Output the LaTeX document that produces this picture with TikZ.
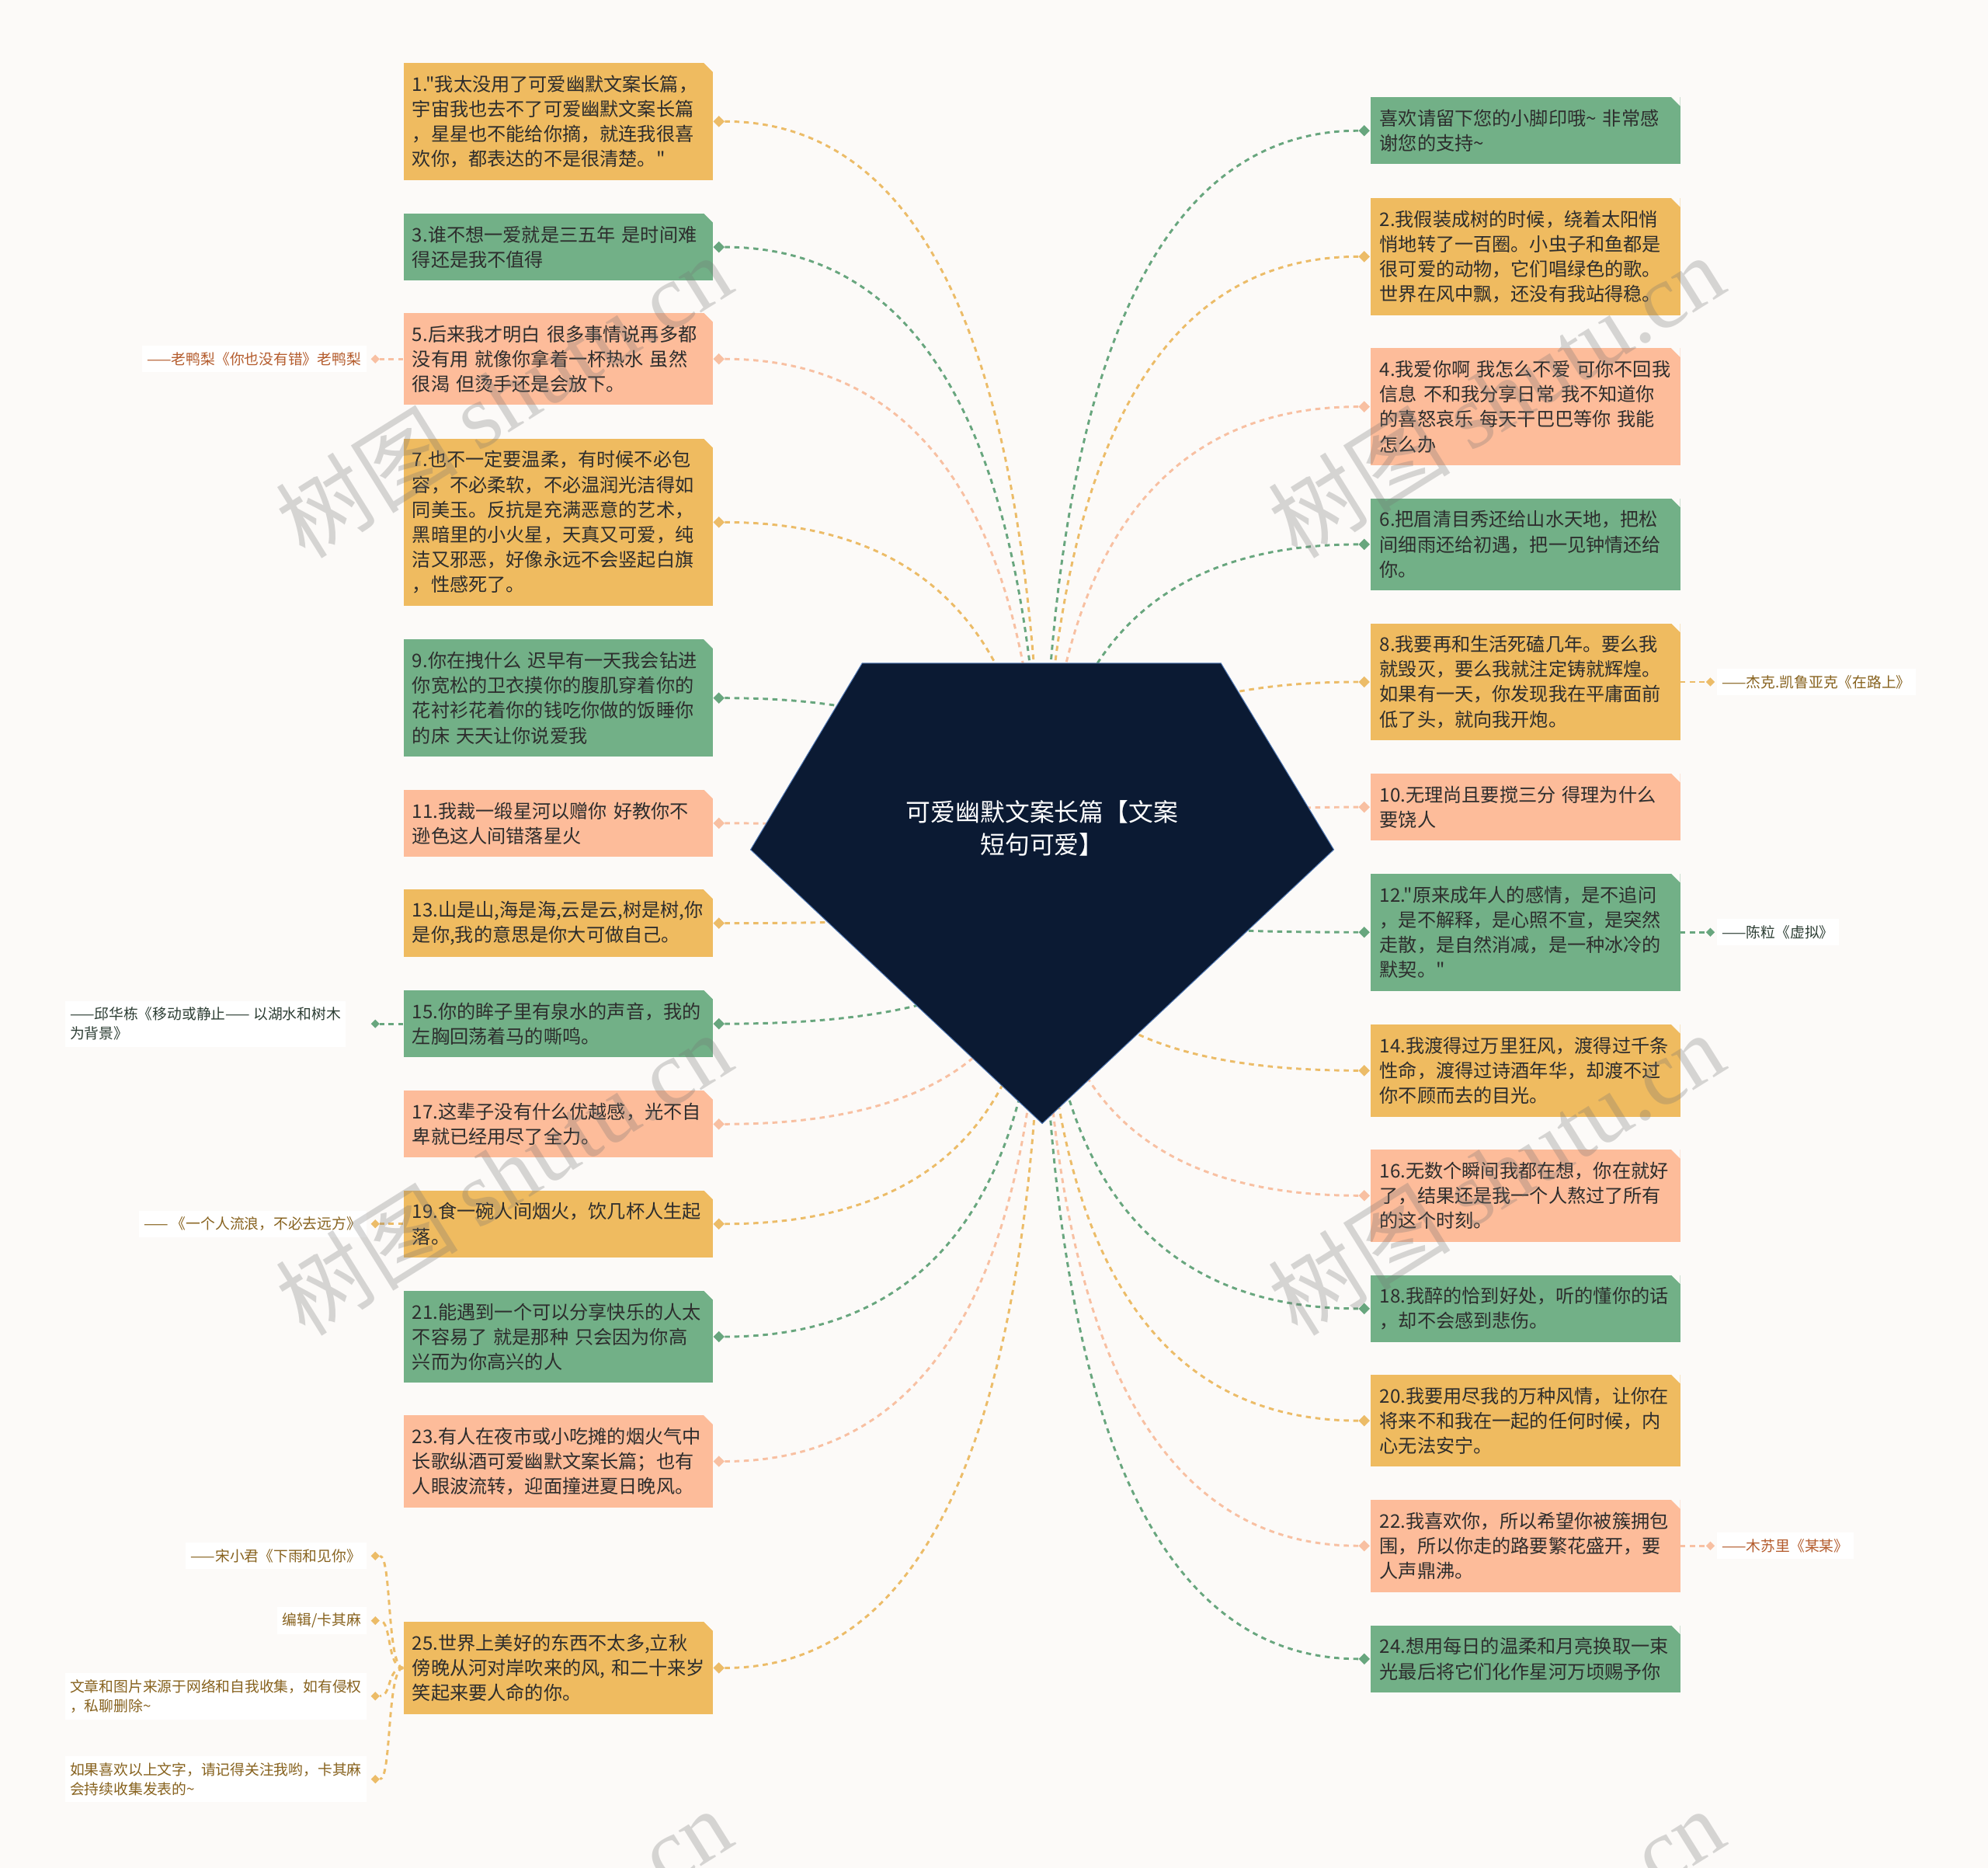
\documentclass[tikz,border=0pt]{standalone}
\usepackage{fontspec}
\setmainfont{Noto Sans CJK SC}[Ligatures=TeXOff]
\newfontfamily\wmlat{Liberation Serif}
\usetikzlibrary{shapes.geometric,calc}
\definecolor{bgc}{RGB}{252,250,248}
\definecolor{cOr}{RGB}{239,187,96}
\definecolor{cGr}{RGB}{114,176,135}
\definecolor{cSa}{RGB}{253,188,154}
\definecolor{lOr}{RGB}{236,188,104}
\definecolor{lGr}{RGB}{104,166,126}
\definecolor{lSa}{RGB}{248,192,162}
\definecolor{gemc}{RGB}{11,26,51}
\definecolor{gemb}{RGB}{80,120,180}
\definecolor{txt}{RGB}{45,45,45}
\definecolor{tOr}{RGB}{135,98,30}
\definecolor{tSa}{RGB}{180,92,45}
\definecolor{tGr}{RGB}{45,62,52}
\pgfdeclarelayer{bglayer}
\pgfdeclarelayer{conn}
\pgfdeclarelayer{wm}
\pgfsetlayers{bglayer,conn,main,wm}
\newcommand\mkbox[6]{\node[tbox, fill=#4, minimum height=#5pt] (#1) at (#2,#3) {#6};}
\newcommand\gemlink[2]{\draw[conn,draw=#2] (#1) .. controls ($(#1)!0.667!(#1 -| C)$) and ($(C)!0.667!(C |- #1)$) .. (C);}
\begin{document}
\begin{tikzpicture}[x=1pt,y=-1pt,
  tbox/.style={rectangle, anchor=west, text width=230pt, inner xsep=7pt, inner ysep=4pt, align=left, text=txt,
    font=\fontsize{14.8pt}{19.7pt}\selectfont,
    path picture={\fill[bgc] ([xshift=-7.5pt,yshift=0.5pt]path picture bounding box.north east) -- ([xshift=0.5pt,yshift=0.5pt]path picture bounding box.north east) -- ([xshift=0.5pt,yshift=-7.5pt]path picture bounding box.north east) -- cycle;}},
  dmd/.style={diamond, minimum size=9pt, inner sep=0pt},
  admd/.style={diamond, minimum size=7pt, inner sep=0pt},
  conn/.style={line width=1.8pt, dash pattern=on 4pt off 3.5pt},
  ann/.style={fill=white, inner xsep=4pt, inner ysep=5pt, align=left, font=\fontsize{11.5pt}{15.5pt}\selectfont},
  wmark/.style={rotate=32, text=black!55, text opacity=0.28, font=\fontsize{72pt}{80pt}\selectfont}
]
\begin{pgfonlayer}{bglayer}
\fill[bgc] (0,0) rectangle (1568,1473);
\end{pgfonlayer}
\useasboundingbox (0,0) rectangle (1568,1473);

% ---- hub and root ----
\coordinate (C) at (822,704);
\fill[gemc, draw=gemb, line width=0.6pt] (680,523) -- (963,523) -- (1052,670) -- (822,886) -- (592,670) -- cycle;
\node[font=\fontsize{19.5pt}{26pt}\selectfont, text=white, align=center] (root) at (822,653) {可爱幽默文案长篇【文案\\短句可爱】};

% ---- left boxes ----
\mkbox{b1}{318}{95.75}{cOr}{92.3}{1."我太没用了可爱幽默文案长篇，\\宇宙我也去不了可爱幽默文案长篇\\，星星也不能给你摘，就连我很喜\\欢你，都表达的不是很清楚。"}
\mkbox{b3}{318}{194.85}{cGr}{52.9}{3.谁不想一爱就是三五年~是时间难\\得还是我不值得}
\mkbox{b5}{318}{283.1}{cSa}{72.6}{5.后来我才明白~很多事情说再多都\\没有用~就像你拿着一杯热水~虽然\\很渴~但烫手还是会放下。}
\mkbox{b7}{318}{411.85}{cOr}{131.7}{7.也不一定要温柔，有时候不必包\\容，不必柔软，不必温润光洁得如\\同美玉。反抗是充满恶意的艺术，\\黑暗里的小火星，天真又可爱，纯\\洁又邪恶，好像永远不会竖起白旗\\，性感死了。}
\mkbox{b9}{318}{550.45}{cGr}{92.3}{9.你在拽什么~迟早有一天我会钻进\\你宽松的卫衣摸你的腹肌穿着你的\\花衬衫花着你的钱吃你做的饭睡你\\的床~天天让你说爱我}
\mkbox{b11}{318}{649.15}{cSa}{52.9}{11.我裁一缎星河以赠你~好教你不\\逊色这人间错落星火}
\mkbox{b13}{318}{728.05}{cOr}{52.9}{13.山是山,海是海,云是云,树是树,你\\是你,我的意思是你大可做自己。}
\mkbox{b15}{318}{807.35}{cGr}{52.9}{15.你的眸子里有泉水的声音，我的\\左胸回荡着马的嘶鸣。}
\mkbox{b17}{318}{886.45}{cSa}{52.9}{17.这辈子没有什么优越感，光不自\\卑就已经用尽了全力。}
\mkbox{b19}{318}{965.15}{cOr}{52.9}{19.食一碗人间烟火，饮几杯人生起\\落。}
\mkbox{b21}{318}{1054.1}{cGr}{72.6}{21.能遇到一个可以分享快乐的人太\\不容易了~就是那种~只会因为你高\\兴而为你高兴的人}
\mkbox{b23}{318}{1152.4}{cSa}{72.6}{23.有人在夜市或小吃摊的烟火气中\\长歌纵酒可爱幽默文案长篇；也有\\人眼波流转，迎面撞进夏日晚风。}
\mkbox{b25}{318}{1315.3}{cOr}{72.6}{25.世界上美好的东西不太多,立秋\\傍晚从河对岸吹来的风,~和二十来岁\\笑起来要人命的你。}

% ---- right boxes ----
\mkbox{r0}{1081}{103.05}{cGr}{52.9}{喜欢请留下您的小脚印哦\textasciitilde{}~非常感\\谢您的支持\textasciitilde}
\mkbox{r2}{1081}{202.35}{cOr}{92.3}{2.我假装成树的时候，绕着太阳悄\\悄地转了一百圈。小虫子和鱼都是\\很可爱的动物，它们唱绿色的歌。\\世界在风中飘，还没有我站得稳。}
\mkbox{r4}{1081}{320.75}{cSa}{92.3}{4.我爱你啊~我怎么不爱~可你不回我\\信息~不和我分享日常~我不知道你\\的喜怒哀乐~每天干巴巴等你~我能\\怎么办}
\mkbox{r6}{1081}{429.3}{cGr}{72.6}{6.把眉清目秀还给山水天地，把松\\间细雨还给初遇，把一见钟情还给\\你。}
\mkbox{r8}{1081}{537.75}{cOr}{92.3}{8.我要再和生活死磕几年。要么我\\就毁灭，要么我就注定铸就辉煌。\\如果有一天，你发现我在平庸面前\\低了头，就向我开炮。}
\mkbox{r10}{1081}{636.45}{cSa}{52.9}{10.无理尚且要搅三分~得理为什么\\要饶人}
\mkbox{r12}{1081}{735.15}{cGr}{92.3}{12."原来成年人的感情，是不追问\\，是不解释，是心照不宣，是突然\\走散，是自然消减，是一种冰冷的\\默契。"}
\mkbox{r14}{1081}{844.2}{cOr}{72.6}{14.我渡得过万里狂风，渡得过千条\\性命，渡得过诗酒年华，却渡不过\\你不顾而去的目光。}
\mkbox{r16}{1081}{942.8}{cSa}{72.6}{16.无数个瞬间我都在想，你在就好\\了，结果还是我一个人熬过了所有\\的这个时刻。}
\mkbox{r18}{1081}{1031.95}{cGr}{52.9}{18.我醉的恰到好处，听的懂你的话\\，却不会感到悲伤。}
\mkbox{r20}{1081}{1120.3}{cOr}{72.6}{20.我要用尽我的万种风情，让你在\\将来不和我在一起的任何时候，内\\心无法安宁。}
\mkbox{r22}{1081}{1219}{cSa}{72.6}{22.我喜欢你，所以希望你被簇拥包\\围，所以你走的路要繁花盛开，要\\人声鼎沸。}
\mkbox{r24}{1081}{1308.15}{cGr}{52.9}{24.想用每日的温柔和月亮换取一束\\光最后将它们化作星河万顷赐予你}

% ---- diamonds at boxes ----
\node[dmd, fill=lOr] (d1) at (567,95.75) {};
\node[dmd, fill=lGr] (d3) at (567,194.85) {};
\node[dmd, fill=lSa] (d5) at (567,283.1) {};
\node[dmd, fill=lOr] (d7) at (567,411.85) {};
\node[dmd, fill=lGr] (d9) at (567,550.45) {};
\node[dmd, fill=lSa] (d11) at (567,649.15) {};
\node[dmd, fill=lOr] (d13) at (567,728.05) {};
\node[dmd, fill=lGr] (d15) at (567,807.35) {};
\node[dmd, fill=lSa] (d17) at (567,886.45) {};
\node[dmd, fill=lOr] (d19) at (567,965.15) {};
\node[dmd, fill=lGr] (d21) at (567,1054.1) {};
\node[dmd, fill=lSa] (d23) at (567,1152.4) {};
\node[dmd, fill=lOr] (d25) at (567,1315.3) {};
\node[dmd, fill=lGr] (e0) at (1076,103.05) {};
\node[dmd, fill=lOr] (e2) at (1076,202.35) {};
\node[dmd, fill=lSa] (e4) at (1076,320.75) {};
\node[dmd, fill=lGr] (e6) at (1076,429.3) {};
\node[dmd, fill=lOr] (e8) at (1076,537.75) {};
\node[dmd, fill=lSa] (e10) at (1076,636.45) {};
\node[dmd, fill=lGr] (e12) at (1076,735.15) {};
\node[dmd, fill=lOr] (e14) at (1076,844.2) {};
\node[dmd, fill=lSa] (e16) at (1076,942.8) {};
\node[dmd, fill=lGr] (e18) at (1076,1031.95) {};
\node[dmd, fill=lOr] (e20) at (1076,1120.3) {};
\node[dmd, fill=lSa] (e22) at (1076,1219) {};
\node[dmd, fill=lGr] (e24) at (1076,1308.15) {};

% ---- annotations ----
\node[ann, text=tSa, anchor=east] (a5) at (289,283.1) {——老鸭梨《你也没有错》老鸭梨};
\node[admd, fill=lSa] (ad5) at (296,283.1) {};
\node[ann, text=tGr, anchor=west] (a15) at (51,807.35) {——邱华栋《移动或静止——~以湖水和树木\\为背景》};
\node[admd, fill=lGr] (ad15) at (296,807.35) {};
\node[ann, text=tOr, anchor=east] (a19) at (289,965.15) {——~《一个人流浪，不必去远方》};
\node[admd, fill=lOr] (ad19) at (296,965.15) {};
\node[ann, text=tOr, anchor=east] (a25a) at (289,1227) {——宋小君《下雨和见你》};
\node[admd, fill=lOr] (ad25a) at (296,1227) {};
\node[ann, text=tOr, anchor=east] (a25b) at (289,1278) {编辑/卡其麻};
\node[admd, fill=lOr] (ad25b) at (296,1278) {};
\node[ann, text=tOr, anchor=west] (a25c) at (51,1337.5) {文章和图片来源于网络和自我收集，如有侵权\\，私聊删除\textasciitilde};
\node[admd, fill=lOr] (ad25c) at (296,1337.5) {};
\node[ann, text=tOr, anchor=west] (a25d) at (51,1403) {如果喜欢以上文字，请记得关注我哟，卡其麻\\会持续收集发表的\textasciitilde};
\node[admd, fill=lOr] (ad25d) at (296,1403) {};
\node[ann, text=tOr, anchor=west] (a8) at (1354,537.75) {——杰克.凯鲁亚克《在路上》};
\node[admd, fill=lOr] (ad8) at (1349,537.75) {};
\node[ann, text=tGr, anchor=west] (a12) at (1354,735.15) {——陈粒《虚拟》};
\node[admd, fill=lGr] (ad12) at (1349,735.15) {};
\node[ann, text=tSa, anchor=west] (a22) at (1354,1219) {——木苏里《某某》};
\node[admd, fill=lSa] (ad22) at (1349,1219) {};

% ---- connectors ----
\begin{pgfonlayer}{conn}
\gemlink{d1}{lOr}
\gemlink{d3}{lGr}
\gemlink{d5}{lSa}
\gemlink{d7}{lOr}
\gemlink{d9}{lGr}
\gemlink{d11}{lSa}
\gemlink{d13}{lOr}
\gemlink{d15}{lGr}
\gemlink{d17}{lSa}
\gemlink{d19}{lOr}
\gemlink{d21}{lGr}
\gemlink{d23}{lSa}
\gemlink{d25}{lOr}
\gemlink{e0}{lGr}
\gemlink{e2}{lOr}
\gemlink{e4}{lSa}
\gemlink{e6}{lGr}
\gemlink{e8}{lOr}
\gemlink{e10}{lSa}
\gemlink{e12}{lGr}
\gemlink{e14}{lOr}
\gemlink{e16}{lSa}
\gemlink{e18}{lGr}
\gemlink{e20}{lOr}
\gemlink{e22}{lSa}
\gemlink{e24}{lGr}
\draw[conn, draw=lSa] (b5.west) -- (ad5);
\draw[conn, draw=lGr] (b15.west) -- (ad15);
\draw[conn, draw=lOr] (b19.west) -- (ad19);
\draw[conn, draw=lOr] (r8.east) -- (ad8);
\draw[conn, draw=lGr] (r12.east) -- (ad12);
\draw[conn, draw=lSa] (r22.east) -- (ad22);
\foreach \k in {ad25a,ad25b,ad25c,ad25d}
  \draw[conn, draw=lOr] (b25.west) .. controls ($(b25.west)+(-13,0)$) and ($(\k)+(13,0)$) .. (\k);
\end{pgfonlayer}

% ---- watermarks ----
\begin{pgfonlayer}{wm}
\node[wmark] (wm1) at (397,312) {树图 {\wmlat shutu.cn}};
\node[wmark] (wm2) at (397,925) {树图 {\wmlat shutu.cn}};
\node[wmark] (wm3) at (397,1537) {树图 {\wmlat shutu.cn}};
\node[wmark] (wm4) at (1180,312) {树图 {\wmlat shutu.cn}};
\node[wmark] (wm5) at (1180,925) {树图 {\wmlat shutu.cn}};
\node[wmark] (wm6) at (1180,1537) {树图 {\wmlat shutu.cn}};
\end{pgfonlayer}
\end{tikzpicture}
\end{document}
